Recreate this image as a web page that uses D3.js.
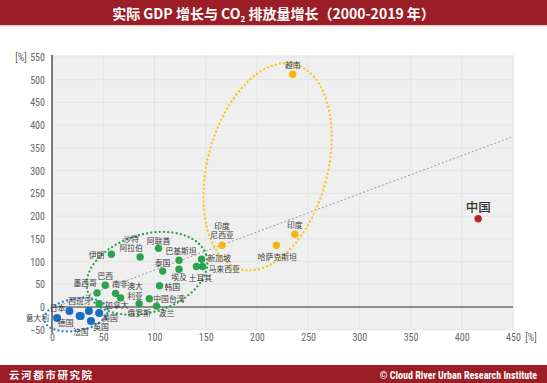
<!DOCTYPE html>
<html><head><meta charset="utf-8">
<script src="https://cdn.jsdelivr.net/npm/d3@7"></script>
<style>
body{margin:0;background:#fff;}
svg{display:block;}
</style></head><body>
<svg id="chart" width="547" height="383"></svg>
<script>
// ---------- data ----------
const countries = ["意大利","日本","德国","法国","西班牙","英国","美国",
  "伊朗","沙特阿拉伯","阿联酋","巴基斯坦","泰国","埃及","新加坡","马来西亚","土耳其",
  "巴西","墨西哥","南非","澳大利亚","韩国","中国台湾","波兰","俄罗斯","加拿大",
  "越南","印度尼西亚","印度","哈萨克斯坦","中国"];
const gdpGrowth = [5,17,27,28,36,38,46,
  58,86,104,124,108,124,146,147,141,
  52,44,62,67,105,95,102,85,46,
  235,166,237,219,416];
const co2Growth = [-24,-9,-20,-20,-9,-31,-13,
  116,110,129,103,79,83,105,89,89,
  48,31,30,20,47,18,2,7,7,
  512,136,160,136,194];
const groups = ["dev","dev","dev","dev","dev","dev","dev",
  "emg","emg","emg","emg","emg","emg","emg","emg","emg",
  "emg","emg","emg","emg","emg","emg","emg","emg","emg",
  "fast","fast","fast","fast","china"];
const xTicks = [0,50,100,150,200,250,300,350,400,450];
const yTicks = [-50,0,50,100,150,200,250,300,350,400,450,500,550];
const trendX = [0,450];
const trendY = [-3,375];
const labelLines = {"沙特阿拉伯":["沙特","阿拉伯"],"澳大利亚":["澳大","利亚"],"印度尼西亚":["印度","尼西亚"]};

// ---------- layout / style ----------
const colors = {dev:"#1b6dc1", emg:"#2ba24c", fast:"#f3b80c", china:"#c3202c"};
const ringColors = {dev:"#2a7fd0", emg:"#2ba24c", fast:"#f5c518"};
// label placement: [anchor, dx, dy(center of first line)]
const place = {
  "意大利":["end",-8,0], "日本":["end",-4,-4], "德国":["middle",-14,6], "法国":["middle",0,15.5],
  "西班牙":["middle",-9,-11], "英国":["middle",10,5.6], "美国":["middle",11,4.8],
  "伊朗":["end",-7,0], "沙特阿拉伯":["middle",-9,-19], "阿联酋":["middle",0,-8],
  "巴基斯坦":["middle",2,-9.5], "泰国":["middle",0,-8.5], "埃及":["middle",0,7],
  "新加坡":["start",6,-2], "马来西亚":["start",6,2], "土耳其":["middle",4,10.5],
  "巴西":["middle",0,-10], "墨西哥":["middle",-12,-10], "南非":["middle",4.5,-10],
  "澳大利亚":["middle",14.5,-12.7], "韩国":["start",5,0.8], "中国台湾":["start",4,0],
  "波兰":["middle",10,6], "俄罗斯":["middle",0,8.5], "加拿大":["start",6,1],
  "越南":["middle",0,-10], "印度尼西亚":["middle",0,-20], "印度":["middle",0,-10],
  "哈萨克斯坦":["middle",1,11], "中国":["middle",0,-12]
};
// group rings: centre in data units, radii in px, rotation deg
const rings = [
  {g:"dev", cx:23.4, cy:-17, rx:32, ry:16, rot:-10},
  {g:"emg", cx:92.7, cy:74, rx:62, ry:39, rot:-17},
  {g:"fast", cx:210.4, cy:308.5, rx:60, ry:106, rot:15}
];

const svg = d3.select("#chart");
const W = 547, H = 383;
const x = d3.scaleLinear().domain([0,450]).range([52,513]);
const y = d3.scaleLinear().domain([0,550]).range([307,57]);
const numFont = "'Liberation Sans Narrow','Roboto Condensed',Arial,sans-serif";
const cjk = "'Noto Sans CJK SC','Noto Sans',sans-serif";

// header
svg.append("rect").attr("x",0).attr("y",0).attr("width",W).attr("height",25).attr("fill","#9b1d25");
svg.append("rect").attr("x",0).attr("y",25).attr("width",W).attr("height",1.5).attr("fill","#e8c9cb");
const title = svg.append("text").attr("x",273.5).attr("y",18.5).attr("text-anchor","middle")
  .attr("fill","#fff").attr("font-family",cjk).attr("font-weight","bold").attr("font-size",14);
title.append("tspan").text("实际 GDP 增长与 CO");
title.append("tspan").attr("font-size",8).attr("dy",3).text("2");
title.append("tspan").attr("dy",-3).text(" 排放量增长（2000-2019 年）");

// footer
svg.append("rect").attr("x",0).attr("y",365).attr("width",W).attr("height",18).attr("fill","#9b1d25");
svg.append("text").attr("x",9).attr("y",378.5).attr("fill","#fff").attr("font-family",cjk)
  .attr("font-weight","bold").attr("font-size",10.5).attr("letter-spacing",1.6).text("云河都市研究院");
svg.append("text").attr("x",537).attr("y",378.5).attr("text-anchor","end").attr("fill","#fff")
  .attr("font-family",numFont).attr("font-weight","bold").attr("font-size",10).text("© Cloud River Urban Research Institute");

// plot bg
const plotTop = 55, plotBottom = y(-50);
svg.append("rect").attr("x",x(0)).attr("y",plotTop).attr("width",x(450)-x(0)).attr("height",plotBottom-plotTop).attr("fill","#efefef");
// grid
svg.append("g").selectAll("line").data(xTicks).join("line")
  .attr("x1",d=>x(d)).attr("x2",d=>x(d)).attr("y1",plotTop).attr("y2",plotBottom)
  .attr("stroke","#e4e4e4").attr("stroke-width",1);
svg.append("g").selectAll("line").data(yTicks).join("line")
  .attr("x1",x(0)).attr("x2",x(450)).attr("y1",d=>y(d)).attr("y2",d=>y(d))
  .attr("stroke","#e4e4e4").attr("stroke-width",1);

// axes
const xAxis = d3.axisBottom(x).tickValues(xTicks).tickSize(0).tickPadding(0);
const gx = svg.append("g").attr("transform",`translate(0,${plotBottom+4.5})`).call(xAxis);
gx.select(".domain").remove();
gx.selectAll("text").attr("font-family",numFont).attr("font-size",10).attr("fill","#666").attr("dy","0.71em");
const yAxis = d3.axisLeft(y).tickValues(yTicks).tickSize(0).tickPadding(0);
const gy = svg.append("g").attr("transform",`translate(45,0)`).call(yAxis);
gy.select(".domain").remove();
gy.selectAll("text").attr("font-family",numFont).attr("font-size",10).attr("fill","#666").attr("dy","0.35em");
svg.append("text").attr("x",21).attr("y",y(550)).attr("dy","0.35em").attr("text-anchor","middle")
  .attr("font-family",numFont).attr("font-size",10).attr("fill","#666").text("[%]");
svg.append("text").attr("x",531).attr("y",plotBottom+4.5).attr("dy","0.71em").attr("text-anchor","middle")
  .attr("font-family",numFont).attr("font-size",10).attr("fill","#666").text("[%]");

svg.append("line").attr("x1",x(0)).attr("x2",x(0)).attr("y1",plotTop).attr("y2",plotBottom+3)
  .attr("stroke","#555").attr("stroke-width",1.5);
svg.append("line").attr("x1",x(0)).attr("x2",x(450)).attr("y1",y(0)).attr("y2",y(0))
  .attr("stroke","#707070").attr("stroke-width",1.5);

// trend line
svg.append("line").attr("x1",x(trendX[0])).attr("y1",y(trendY[0])).attr("x2",x(trendX[1])).attr("y2",y(trendY[1]))
  .attr("stroke","#9a9a9a").attr("stroke-width",1).attr("stroke-dasharray","2,2");

// rings
svg.append("g").selectAll("ellipse").data(rings).join("ellipse")
  .attr("cx",0).attr("cy",0).attr("rx",d=>d.rx).attr("ry",d=>d.ry)
  .attr("transform",d=>`translate(${x(d.cx)},${y(d.cy)}) rotate(${d.rot})`)
  .attr("fill","none").attr("stroke",d=>ringColors[d.g]).attr("stroke-width",2.3)
  .attr("stroke-linecap","round").attr("stroke-dasharray","0.01 4.2");

// points
const pts = countries.map((c,i)=>({name:c, gx:gdpGrowth[i], gy:co2Growth[i], g:groups[i]}));
svg.append("g").selectAll("circle").data(pts).join("circle")
  .attr("cx",d=>x(d.gx)).attr("cy",d=>y(d.gy)).attr("r",d=>d.g==="dev"?4:3.7)
  .attr("fill",d=>colors[d.g]);

// labels
const lg = svg.append("g");
pts.forEach(d=>{
  const p = place[d.name];
  const lines = labelLines[d.name] || [d.name];
  const big = d.g==="china";
  lines.forEach((t,k)=>{
    lg.append("text").attr("x",x(d.gx)+p[1]).attr("y",y(d.gy)+p[2]+k*9.8)
      .attr("text-anchor",p[0]).attr("dominant-baseline","central")
      .attr("font-family",cjk).attr("font-size",big?12.5:7.8).attr("fill",big?"#333":"#3a3a3a")
      .attr("font-weight",big?"500":"normal").text(t);
  });
});
</script>
</body></html>
